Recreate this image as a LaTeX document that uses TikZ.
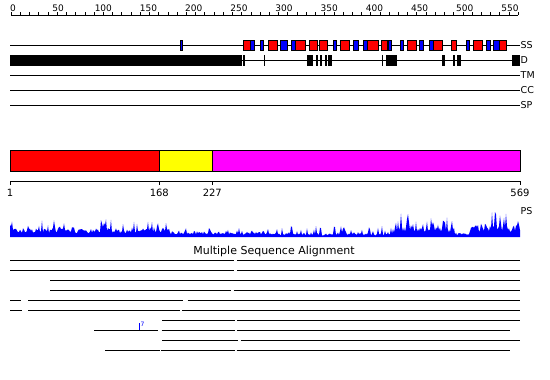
\documentclass[tikz,border=0pt]{standalone}
\usepackage{fontspec}
\setmainfont{DejaVu Sans}
\definecolor{hxred}{RGB}{255,0,0}
\definecolor{stblue}{RGB}{0,0,255}
\definecolor{domyellow}{RGB}{255,255,0}
\definecolor{dommagenta}{RGB}{255,0,255}
\begin{document}
\pgfmathsetseed{11}
\begin{tikzpicture}[
    x=1pt, y=-1pt,
    track/.style={line width=1pt},
    helix/.style={fill=hxred, draw=black, line width=0.8pt},
    strand/.style={fill=stblue, draw=black, line width=0.8pt},
    disorder/.style={fill=black},
    dombox/.style={draw=black, line width=0.8pt},
    msa/.style={line width=1pt},
    tracklabel/.style={anchor=west, inner sep=0.5pt, font=\fontsize{9.5}{10}\selectfont},
    rulerlabel/.style={anchor=base, inner sep=0pt, font=\fontsize{9}{9}\selectfont},
    poslabel/.style={anchor=north, inner sep=0pt, font=\fontsize{10}{11}\selectfont},
    declare function={
      psbase(\x)=(\x<13)?14:((\x<170)?6:((\x<270)?3.5:((\x<395)?2.5:((\x<455)?7:((\x<470)?2.5:8)))));
      pspeak(\x)=(\x<13)?0:((\x<170)?10:((\x<270)?5:((\x<395)?8:((\x<455)?14:((\x<470)?3:18)))));
    },
  ]
  \useasboundingbox (0,0) rectangle (550,380);

  \draw[track] (11,15) coordinate (rul0) -- (518,15) coordinate (rul1);
  \foreach \v in {0,10,...,550}
    \draw ({11+0.922*\v},15) -- ++(0,-3);
  \foreach \v in {0,50,...,550}
    \node[rulerlabel] (rul\v) at ({13+0.9036*\v},12) {\v};

  \foreach \tr/\lab/\yy in {ss/SS/45, d/D/60, tm/TM/75, cc/CC/90, sp/SP/105} {
    \draw[track] (10,\yy) coordinate (\tr0) -- (520,\yy) coordinate (\tr1);
    \node[tracklabel] (\tr lab) at (\tr1) {\lab};
  }
  \draw[strand, line width=0.5pt] (180.5,40) rectangle (182,50);
  \foreach \a/\b in {250/254.5, 260/263.5, 280/287, 291/295, 333.5/336.5, 353.5/358.5, 363.5/367.5, 388.5/391.5, 400/403.5, 419.5/423.5, 429.5/433.5, 466/469.5, 486/490, 493.5/499.5}
    \draw[strand] (\a,40) rectangle (\b,50);
  \foreach \a/\b in {243.5/250, 268.5/277, 295/305, 309/317.5, 319.5/327.5, 340/349.5, 367.5/378.5, 381/387, 407.5/416, 433.5/442, 451/456, 473/482, 499.5/506}
    \draw[helix] (\a,40) rectangle (\b,50);
  \foreach \a/\b in {10/241.5, 243.3/244.7, 264/265.3, 307/312.7, 316/318.3, 319.5/321.7, 325/326.7, 328.3/331.7, 381.5/383.3, 386/396.7, 441.7/445, 453/455, 456.5/461, 511.5/520}
    \fill[disorder] (\a,54.5) rectangle (\b,65.5);

  \draw[dombox, fill=hxred] (10,150) rectangle (159.3,171);
  \draw[dombox, fill=domyellow] (159.3,150) rectangle (212.3,171);
  \draw[dombox, fill=dommagenta] (212.3,150) rectangle (520,171);
  \draw[track] (10,181) coordinate (sc0) -- (520,181) coordinate (sc1);
  \foreach \p/\xx in {1/10, 168/159.3, 227/212.3, 569/520} {
    \draw (\xx,181) -- (\xx,185);
    \node[poslabel] (pos\p) at (\xx,189) {\p};
  }

  \node[tracklabel] (pslab) at (520,211) {PS};
  \fill[stblue] (10,237) coordinate (ps0)
    \foreach \x in {10,...,520} { -- (\x,{237-psbase(\x)*(0.6+0.8*rnd)-pspeak(\x)*rnd^4}) }
    -- (520,237) coordinate (ps1) -- cycle;

  \node[font=\fontsize{11}{12}\selectfont] (msatitle) at (274,251) {Multiple Sequence Alignment};
  \foreach \yy/\a/\b in {260/10/234, 260/237/520, 270/10/234, 270/237/520, 280/50/520,
      290/50/231, 290/233.5/520, 300/10/21, 300/28/182.5, 300/187.5/520,
      310/10/22, 310/28/180, 310/182/520, 320/162/235, 320/237/520,
      330/94/158, 330/161.5/235, 330/237/510, 340/162/238, 340/240.5/520,
      350/105/159.5, 350/161/234.5, 350/236.5/510}
    \draw[msa] (\a,\yy) -- (\b,\yy);
  \draw[stblue, line width=0.8pt] (139.3,323) coordinate (ins0) -- (139.3,330) coordinate (ins1);
  \node[stblue, anchor=north west, inner sep=0pt, font=\fontsize{6}{6}\selectfont] (inslab) at (140.3,321.5) {7};
\end{tikzpicture}
\end{document}
